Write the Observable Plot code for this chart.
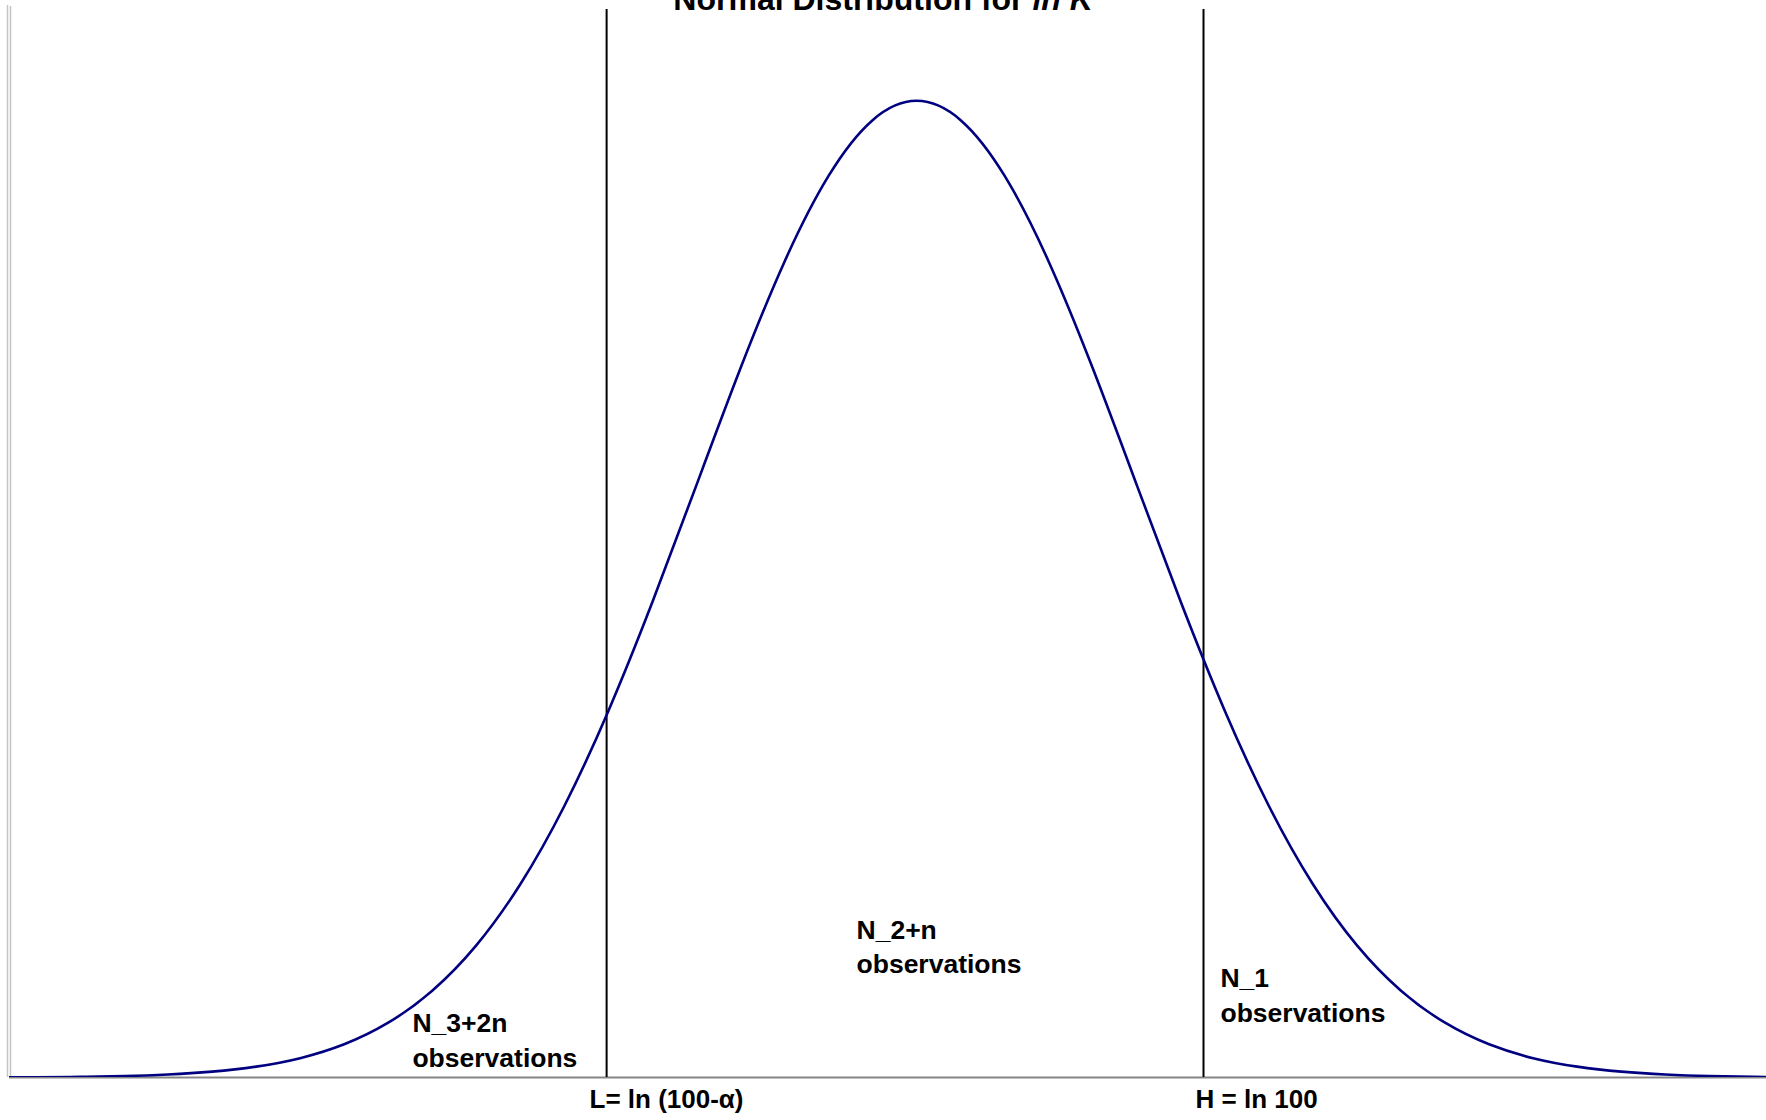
<!DOCTYPE html>
<html>
<head>
<meta charset="utf-8">
<script src="https://cdn.jsdelivr.net/npm/d3@7"></script>
<script src="https://cdn.jsdelivr.net/npm/@observablehq/plot@0.6"></script>
<style>
  html, body { margin: 0; padding: 0; background: white; overflow: hidden; }
</style>
</head>
<body>
<div id="chart"></div>
<script>
// Standardised position (σ units from the mean of ln K) and relative density (peak = 1)
const zValues = [-4.2, -4.0, -3.8, -3.6, -3.4, -3.2, -3.0, -2.8, -2.6, -2.4, -2.2, -2.0, -1.8, -1.6, -1.4, -1.2, -1.0, -0.8, -0.6, -0.4, -0.2,
  0, 0.2, 0.4, 0.6, 0.8, 1.0, 1.2, 1.4, 1.6, 1.8, 2.0, 2.2, 2.4, 2.6, 2.8, 3.0, 3.2, 3.4, 3.6, 3.8, 4.0];
const density = [0.0001, 0.0003, 0.0007, 0.0015, 0.0031, 0.0060, 0.0111, 0.0198, 0.0340, 0.0561, 0.0889, 0.1353, 0.1979, 0.2780, 0.3753, 0.4868, 0.6065, 0.7261, 0.8353, 0.9231, 0.9802,
  1, 0.9802, 0.9231, 0.8353, 0.7261, 0.6065, 0.4868, 0.3753, 0.2780, 0.1979, 0.1353, 0.0889, 0.0561, 0.0340, 0.0198, 0.0111, 0.0060, 0.0031, 0.0015, 0.0007, 0.0003];

// Cut-off points L and H
const cutoffs = [-1.408, 1.303];
const cutoffLabels = ["L= ln (100-α)", "H = ln 100"];
const cutoffLabelX = [-1.136, 1.544];

// Region annotations
const regionLabels = ["N_3+2n\nobservations", "N_2+n\nobservations", "N_1\nobservations"];
const regionX = [-2.29, -0.273, 1.380];
const regionY = [0.0399, 0.1356, 0.0859];

const titleMain = "Normal Distribution for\u00a0";
const titleItalic = "ln K";
const titleJoinX = 0.526;

const curve = zValues.map((z, i) => ({z, d: density[i]}));
const cutLab = cutoffLabels.map((t, i) => ({t, x: cutoffLabelX[i]}));
const regions = regionLabels.map((t, i) => ({t, x: regionX[i], y: regionY[i]}));

const xMin = -4.12, xMax = 3.86;

const chart = Plot.plot({
  width: 1766,
  height: 1120,
  marginLeft: 9,
  marginRight: 0,
  marginTop: 9,
  marginBottom: 43,
  x: {domain: [xMin, xMax], axis: null},
  y: {domain: [0, 1.0935], axis: null},
  style: {fontFamily: "'Liberation Sans', Arial, sans-serif", background: "white"},
  marks: [
    Plot.ruleX([xMin], {dx: -2, stroke: "#c4c4c4", strokeWidth: 1.5, insetTop: -4}),
    Plot.ruleX([xMin], {dx: 1, stroke: "#c4c4c4", strokeWidth: 1.5, insetTop: -3}),
    Plot.ruleY([0], {stroke: "#868686", strokeWidth: 2}),
    Plot.ruleX(cutoffs, {stroke: "black", strokeWidth: 2}),
    Plot.line(curve, {x: "z", y: "d", stroke: "#000080", strokeWidth: 2.6, curve: "natural", clip: true}),
    Plot.text(regions, {x: "x", y: "y", text: "t", textAnchor: "start", fontSize: 26.5, fontWeight: "bold", lineHeight: 1.3, fill: "black"}),
    Plot.text(cutLab, {x: "x", y: () => 0, text: "t", dy: 22, fontSize: 26, fontWeight: "bold", fill: "black"}),
    Plot.text([titleMain], {x: () => titleJoinX, frameAnchor: "top", text: d => d, textAnchor: "end", lineAnchor: "bottom", fontSize: 32, fontWeight: "bold", fill: "black"}),
    Plot.text([titleItalic], {x: () => titleJoinX, frameAnchor: "top", text: d => d, textAnchor: "start", lineAnchor: "bottom", fontSize: 32, fontWeight: "bold", fontStyle: "italic", fill: "black"})
  ]
});
document.getElementById("chart").appendChild(chart);
</script>
</body>
</html>
